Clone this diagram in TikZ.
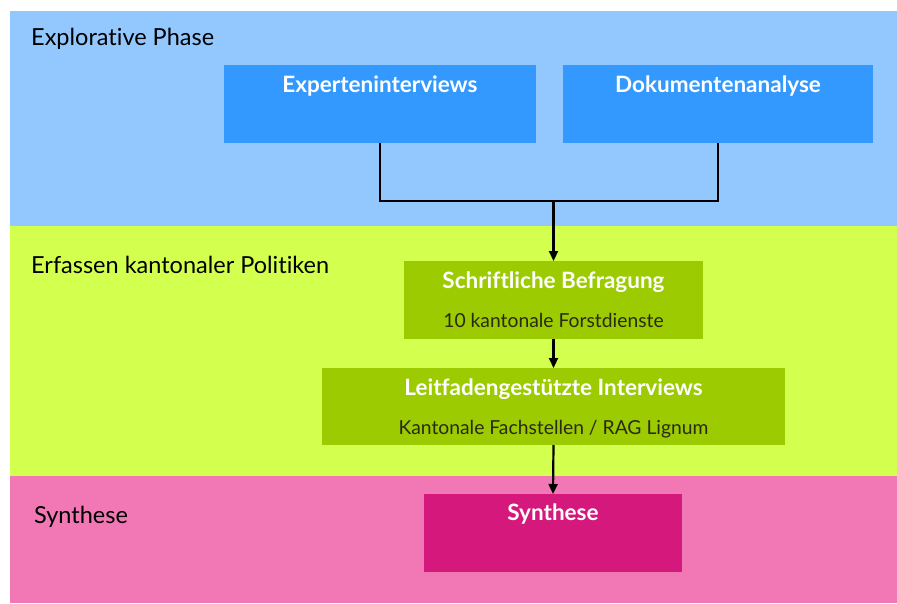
\documentclass[tikz,border=0pt]{standalone}
\usepackage{fontspec}
\setmainfont{Lato}[Ligatures=NoCommon]
\usetikzlibrary{arrows.meta}
\definecolor{bandblue}{HTML}{93C8FF}
\definecolor{bandgreen}{HTML}{D3FF4F}
\definecolor{bandpink}{HTML}{F178B5}
\definecolor{boxblue}{HTML}{3399FF}
\definecolor{boxgreen}{HTML}{9BCB00}
\definecolor{boxpink}{HTML}{D5187B}
\definecolor{subtext}{HTML}{2A2A10}
\tikzset{
  bandlabel/.style={anchor=base west, inner sep=0pt, font=\fontsize{23.5}{28}\selectfont},
  stagebox/.style={inner sep=0pt, outer sep=0pt},
  boxtitle/.style={anchor=base, inner sep=0pt, text=white, font=\bfseries\fontsize{22.5}{26}\selectfont},
  boxsub/.style={anchor=base, inner sep=0pt, text=subtext, font=\fontsize{19.3}{23}\selectfont},
  conn/.style={line width=2.2pt},
  arr/.style={conn, -{Triangle[length=10pt,width=9pt]}}
}
\begin{document}
\begin{tikzpicture}[x=1pt,y=-1pt]
\useasboundingbox (0,0) rectangle (897,603);
\fill[white] (0,0) rectangle (897,603);
% bands
\fill[bandblue] (10,11) rectangle (897,226);
\fill[bandgreen] (10,226) rectangle (897,476);
\fill[bandpink] (10,476) rectangle (897,603);
\node[bandlabel] (lblexp) at (31,45) {Explorative Phase};
\node[bandlabel] (lblerf) at (31,273) {Erfassen kantonaler Politiken};
\node[bandlabel] (lblsyn) at (34,523) {Synthese};
% boxes
\node[stagebox, fill=boxblue, minimum width=312pt, minimum height=78pt] (exp) at (380,104) {};
\node[stagebox, fill=boxblue, minimum width=310pt, minimum height=78pt] (dok) at (718,104) {};
\node[stagebox, fill=boxgreen, minimum width=299pt, minimum height=78pt] (sch) at (553.5,300) {};
\node[stagebox, fill=boxgreen, minimum width=463pt, minimum height=77pt] (lei) at (553.5,406.5) {};
\node[stagebox, fill=boxpink, minimum width=258pt, minimum height=78pt] (syn) at (553,533) {};
% texts
\node[boxtitle] (expt) at (380,92) {Experteninterviews};
\node[boxtitle] (dokt) at (718,92) {Dokumentenanalyse};
\node[boxtitle] (scht) at (553.5,288) {Schriftliche Befragung};
\node[boxsub] (schs) at (553.5,327) {10 kantonale Forstdienste};
\node[boxtitle] (leit) at (553.5,395) {Leitfadengestützte Interviews};
\node[boxsub] (leis) at (553.5,434) {Kantonale Fachstellen / RAG Lignum};
\node[boxtitle] (synt) at (553,520) {Synthese};
% connectors
\coordinate (j) at (553.5,201);
\draw[conn] (exp.south) -- (exp.south |- j) -- (dok.south |- j) -- (dok.south);
\draw[arr] (j) -- (sch.north);
\draw[arr] (sch.south) -- (lei.north);
\draw[arr] (lei.south) -- (syn.north);
\end{tikzpicture}
\end{document}
